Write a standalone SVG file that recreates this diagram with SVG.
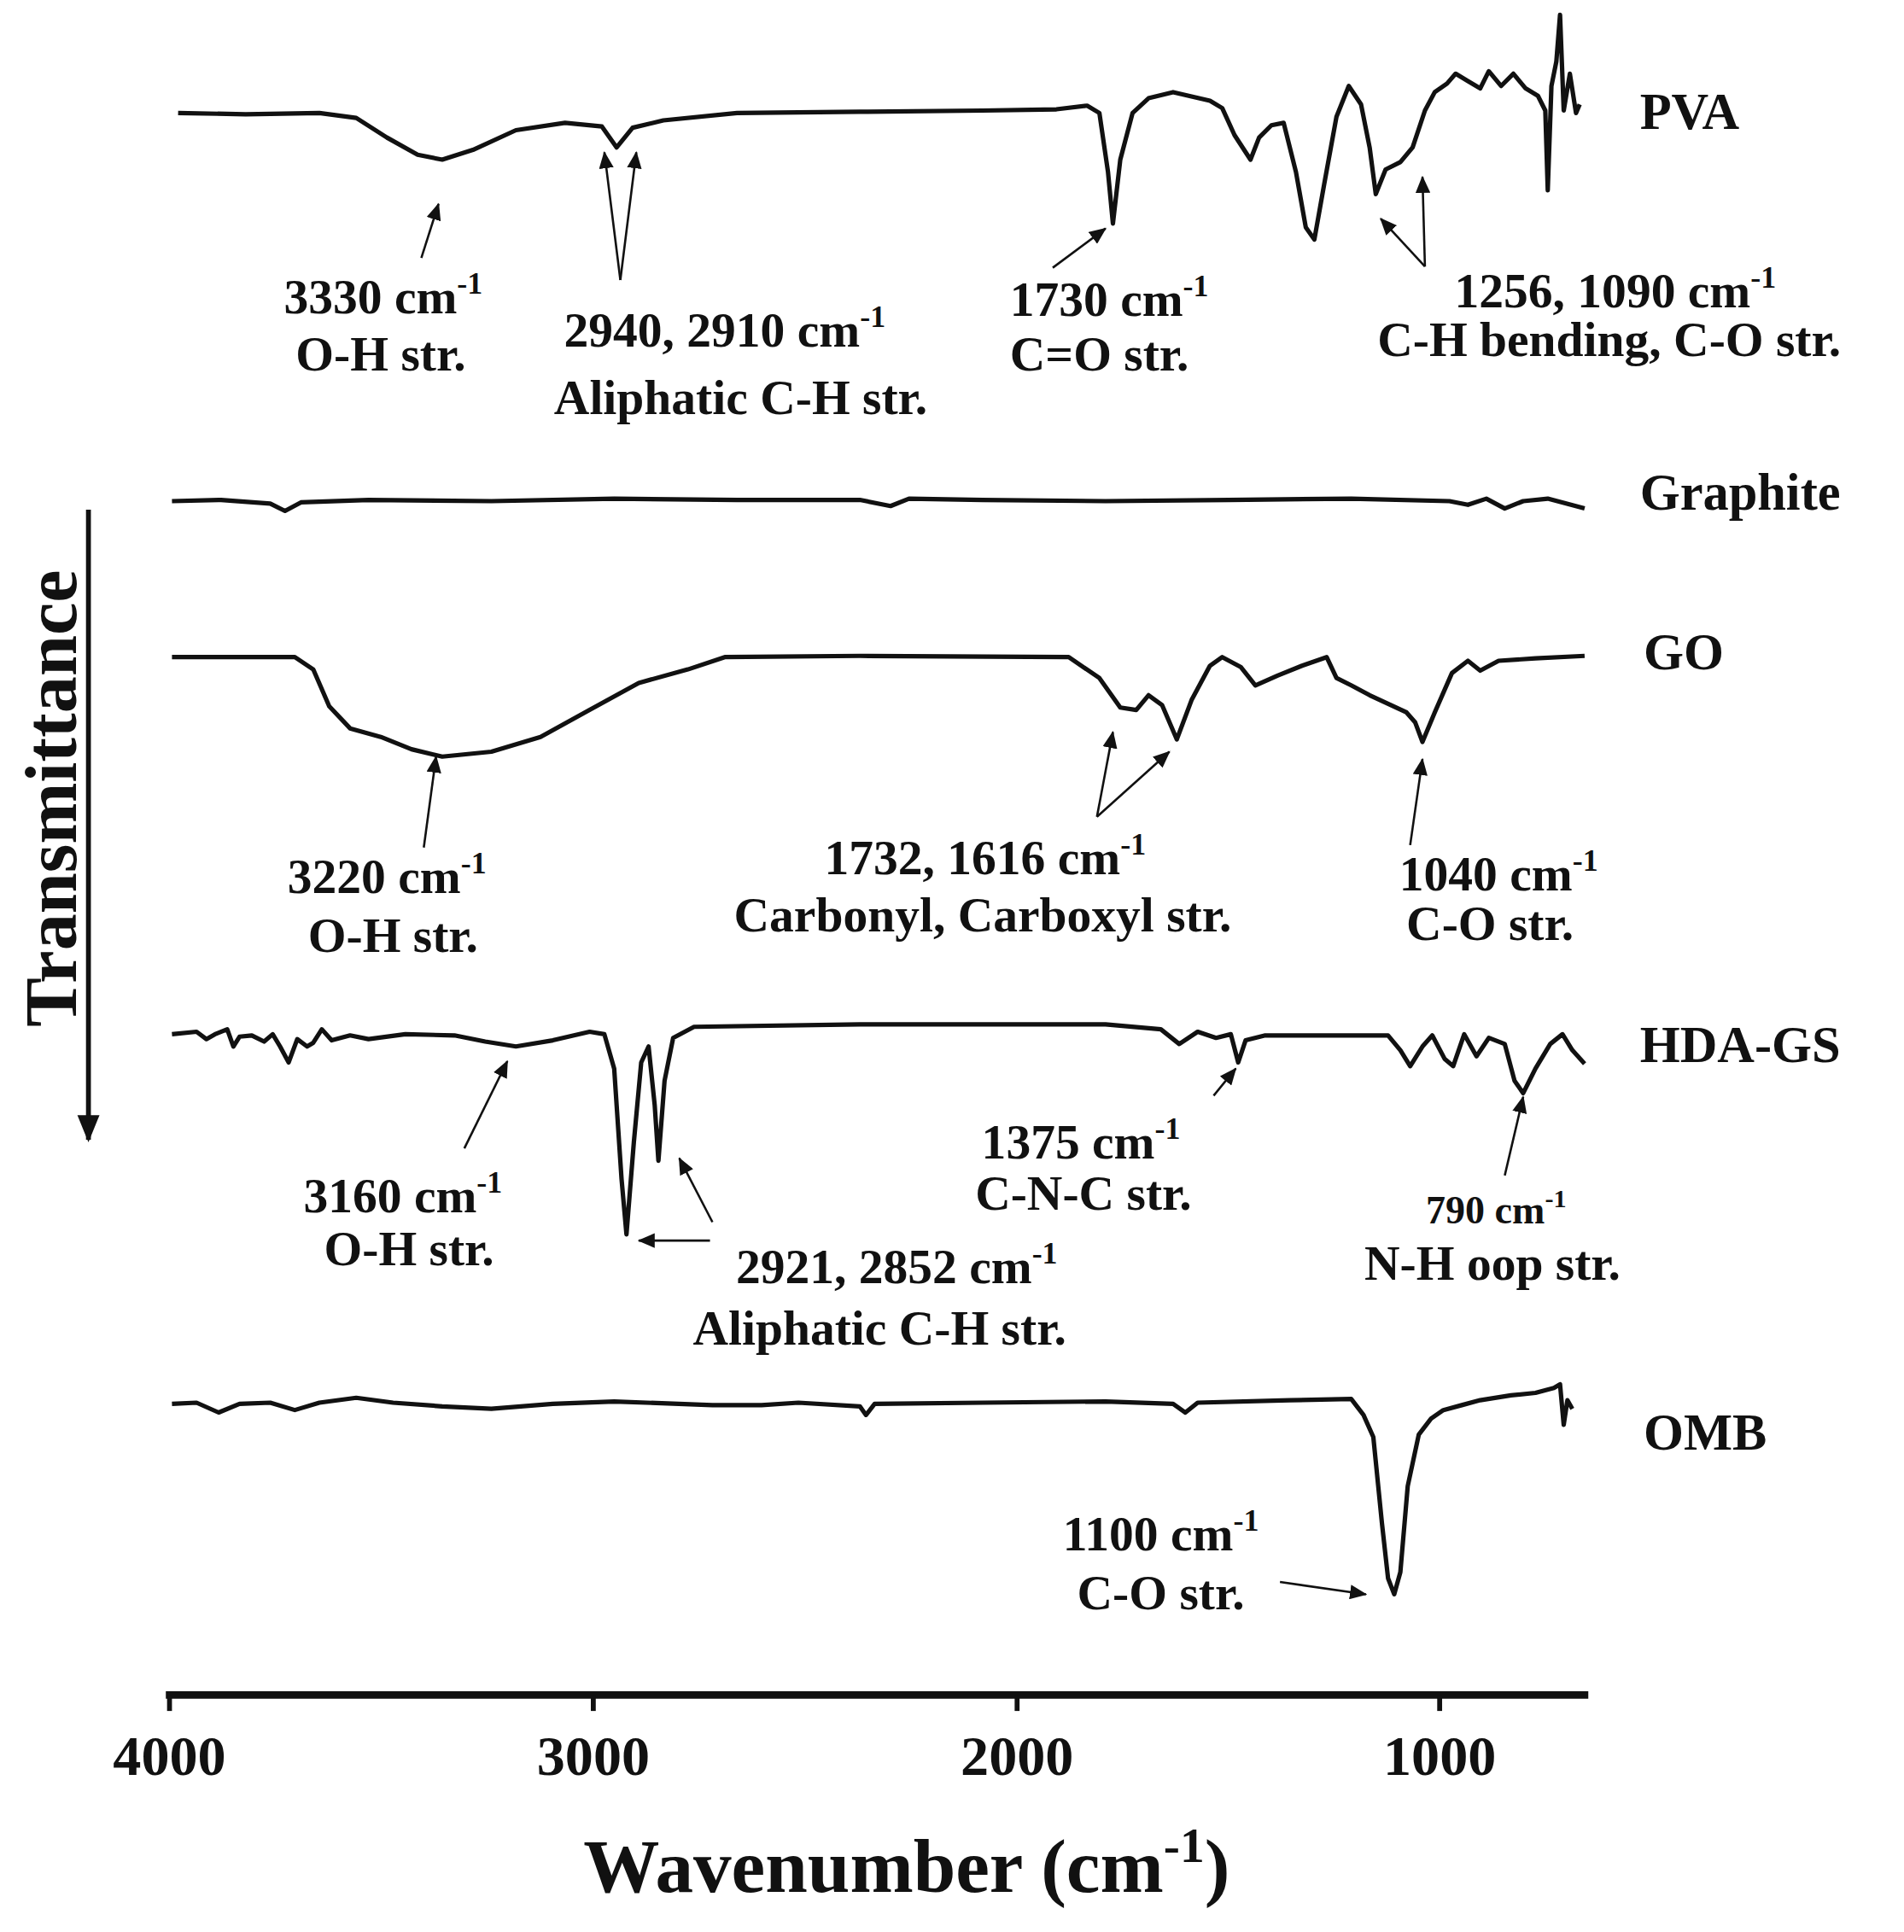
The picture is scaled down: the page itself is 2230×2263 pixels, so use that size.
<svg xmlns="http://www.w3.org/2000/svg" width="2230" height="2263" viewBox="0 0 2230 2263">
<style>
.sp{fill:none;stroke:#111;stroke-width:3.6;stroke-linejoin:round}
.ar{fill:none;stroke:#111;stroke-width:1.8;marker-end:url(#ah)}
text{font-family:"Liberation Serif",serif;font-weight:bold;fill:#111}
.t{font-size:40px;text-anchor:middle}
.s{font-size:32px;text-anchor:middle}
.n{font-size:42px}
.tk{font-size:46px;text-anchor:middle}
</style>
<defs><marker id="ah" markerWidth="14" markerHeight="12" refX="13" refY="6" orient="auto" markerUnits="userSpaceOnUse"><path d="M0,0L14,6L0,12z" fill="#111"/></marker>
<marker id="ah2" markerWidth="22" markerHeight="22" refX="20" refY="11" orient="auto" markerUnits="userSpaceOnUse"><path d="M0,2L22,11L0,20z" fill="#111"/></marker></defs>
<rect width="2230" height="2263" fill="#fff"/>
<g transform="scale(1.4387)">
<g id="axes">
<line x1="135" y1="1380" x2="1293" y2="1380" stroke="#111" stroke-width="6"/>
<g stroke="#111" stroke-width="4"><line x1="138" y1="1380" x2="138" y2="1393"/><line x1="483" y1="1380" x2="483" y2="1393"/><line x1="828" y1="1380" x2="828" y2="1393"/><line x1="1172" y1="1380" x2="1172" y2="1393"/></g>
<text class="tk" x="138" y="1445">4000</text><text class="tk" x="483" y="1445">3000</text><text class="tk" x="828" y="1445">2000</text><text class="tk" x="1172" y="1445">1000</text>
<text x="738" y="1540" font-size="62" text-anchor="middle">Wavenumber (cm<tspan font-size="40" dy="-24">-1</tspan><tspan dy="24">)</tspan></text>
<text transform="translate(62,650) rotate(-90)" font-size="60" text-anchor="middle">Transmittance</text>
<line x1="72" y1="415" x2="72" y2="928" stroke="#111" stroke-width="4" marker-end="url(#ah2)"/>
</g>
<g id="labels" class="n">
<text x="1335" y="105">PVA</text><text x="1335" y="415">Graphite</text><text x="1338" y="545">GO</text><text x="1335" y="865">HDA-GS</text><text x="1338" y="1180">OMB</text>
</g>
<g id="spectra">
<path class="sp" d="M145,92 L200,93 L260,92 L290,96 L315,112 L340,126 L360,130 L385,122 L420,106 L460,100 L490,103 L502,120 L515,104 L540,98 L600,92 L700,91 L800,90 L860,89 L885,86 L895,92 L902,140 L906,182 L912,130 L922,92 L935,80 L955,75 L985,82 L995,88 L1005,110 L1018,130 L1025,112 L1035,102 L1045,100 L1055,140 L1063,185 L1070,195 L1078,150 L1088,95 L1098,70 L1108,85 L1115,120 L1120,158 L1128,138 L1140,132 L1150,120 L1160,90 L1168,75 L1178,68 L1185,60 L1195,66 L1205,72 L1212,58 L1222,70 L1232,60 L1242,72 L1252,78 L1258,90 L1260,155 L1263,70 L1267,50 L1270,12 L1273,90 L1278,60 L1283,92 L1286,85"/>
<path class="sp" d="M140,408 L180,407 L220,410 L232,416 L245,409 L300,407 L400,408 L500,406 L600,407 L700,407 L725,412 L740,406 L800,407 L900,408 L1000,407 L1100,406 L1180,408 L1195,411 L1210,406 L1225,414 L1240,408 L1260,406 L1275,410 L1290,414"/>
<path class="sp" d="M140,535 L240,535 L255,545 L268,575 L285,593 L310,600 L335,610 L360,616 L400,612 L440,600 L480,578 L520,556 L560,545 L590,535 L700,534 L870,535 L895,552 L912,576 L925,578 L935,566 L946,574 L958,602 L970,570 L985,542 L995,535 L1010,543 L1022,558 L1040,550 L1060,542 L1080,535 L1088,552 L1100,558 L1115,566 L1130,573 L1145,580 L1152,588 L1158,604 L1168,580 L1182,548 L1195,538 L1205,546 L1220,538 L1250,536 L1290,534"/>
<path class="sp" d="M140,842 L160,840 L168,846 L175,842 L185,838 L190,852 L195,844 L205,843 L215,848 L222,842 L228,852 L235,865 L242,846 L250,852 L255,849 L262,838 L270,847 L285,843 L300,846 L330,842 L370,843 L395,848 L420,852 L450,847 L480,840 L492,842 L500,870 L506,960 L510,1005 L516,930 L522,865 L528,852 L533,900 L536,945 L541,880 L548,845 L565,836 L700,834 L900,834 L945,838 L960,850 L975,840 L990,845 L1002,842 L1008,865 L1014,847 L1030,843 L1130,843 L1140,855 L1148,868 L1158,852 L1166,843 L1176,862 L1183,868 L1192,842 L1202,860 L1212,845 L1225,850 L1233,880 L1240,890 L1250,870 L1262,850 L1272,842 L1280,855 L1290,866"/>
<path class="sp" d="M140,1143 L160,1142 L178,1150 L195,1143 L220,1142 L240,1148 L260,1142 L290,1138 L320,1142 L360,1145 L400,1147 L450,1143 L500,1141 L580,1144 L620,1144 L650,1142 L700,1145 L705,1152 L712,1143 L800,1142 L900,1141 L955,1143 L965,1150 L975,1142 L1050,1140 L1100,1139 L1110,1152 L1118,1170 L1125,1240 L1130,1285 L1135,1298 L1140,1280 L1146,1210 L1155,1168 L1165,1155 L1175,1148 L1190,1144 L1205,1140 L1230,1136 L1250,1134 L1265,1130 L1270,1127 L1273,1160 L1276,1140 L1280,1147"/>
</g>
<g id="connectors">
<line class="ar" x1="343" y1="210" x2="357" y2="166"/>
<line class="ar" x1="505" y1="228" x2="492" y2="124"/>
<line class="ar" x1="505" y1="228" x2="518" y2="124"/>
<line class="ar" x1="857" y1="218" x2="900" y2="186"/>
<line class="ar" x1="1160" y1="217" x2="1124" y2="178"/>
<line class="ar" x1="1160" y1="217" x2="1158" y2="144"/>
<line class="ar" x1="345" y1="690" x2="355" y2="616"/>
<line class="ar" x1="893" y1="665" x2="906" y2="596"/>
<line class="ar" x1="893" y1="665" x2="952" y2="612"/>
<line class="ar" x1="1148" y1="688" x2="1158" y2="618"/>
<line class="ar" x1="378" y1="935" x2="413" y2="864"/>
<line class="ar" x1="580" y1="995" x2="553" y2="943"/>
<line class="ar" x1="578" y1="1010" x2="520" y2="1010"/>
<line class="ar" x1="988" y1="892" x2="1006" y2="870"/>
<line class="ar" x1="1225" y1="957" x2="1240" y2="893"/>
<line class="ar" x1="1042" y1="1288" x2="1112" y2="1298"/>
</g>
<g id="annotations">
<text class="t" x="312" y="255">3330 cm<tspan font-size="25" dy="-16">-1</tspan></text>
<text class="t" x="310" y="302">O-H str.</text>
<text class="t" x="590" y="282">2940, 2910 cm<tspan font-size="25" dy="-16">-1</tspan></text>
<text class="t" x="603" y="337">Aliphatic C-H str.</text>
<text class="t" x="903" y="257">1730 cm<tspan font-size="25" dy="-16">-1</tspan></text>
<text class="t" x="895" y="302">C=O str.</text>
<text class="t" x="1315" y="250">1256, 1090 cm<tspan font-size="25" dy="-16">-1</tspan></text>
<text class="t" x="1310" y="290">C-H bending, C-O str.</text>
<text class="t" x="315" y="727">3220 cm<tspan font-size="25" dy="-16">-1</tspan></text>
<text class="t" x="320" y="775">O-H str.</text>
<text class="t" x="802" y="712">1732, 1616 cm<tspan font-size="25" dy="-16">-1</tspan></text>
<text class="t" x="800" y="758">Carbonyl, Carboxyl str.</text>
<text class="t" x="1220" y="725">1040 cm<tspan font-size="25" dy="-16">-1</tspan></text>
<text class="t" x="1213" y="765">C-O str.</text>
<text class="t" x="328" y="987">3160 cm<tspan font-size="25" dy="-16">-1</tspan></text>
<text class="t" x="333" y="1030">O-H str.</text>
<text class="t" x="730" y="1045">2921, 2852 cm<tspan font-size="25" dy="-16">-1</tspan></text>
<text class="t" x="716" y="1095">Aliphatic C-H str.</text>
<text class="t" x="880" y="943">1375 cm<tspan font-size="25" dy="-16">-1</tspan></text>
<text class="t" x="882" y="985">C-N-C str.</text>
<text class="s" x="1218" y="996">790 cm<tspan font-size="21" dy="-13">-1</tspan></text>
<text class="t" x="1215" y="1042">N-H oop str.</text>
<text class="t" x="945" y="1262">1100 cm<tspan font-size="25" dy="-16">-1</tspan></text>
<text class="t" x="945" y="1310">C-O str.</text>
</g>
</g>
</svg>
